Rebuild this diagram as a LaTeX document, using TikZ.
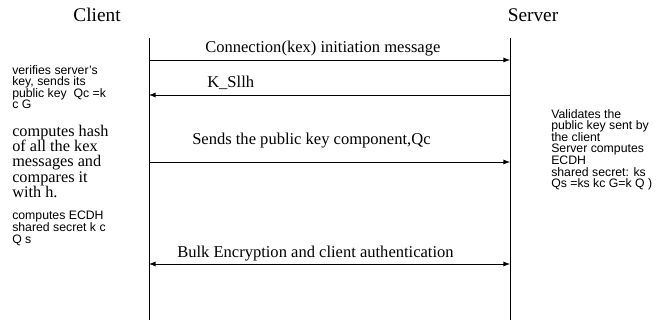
\documentclass[tikz,border=0pt]{standalone}
\usepackage{fontspec}
\setmainfont{Liberation Serif}
\setsansfont{Liberation Sans}
\usetikzlibrary{arrows,positioning}

\begin{document}
\begin{tikzpicture}[
      x=0.75pt, y=-0.75pt,
      actor/.style={font=\fontsize{14.5}{16}\selectfont, inner sep=0pt, anchor=base},
      lifeline/.style={line width=0.7pt},
      msg/.style={line width=0.7pt,->,>=latex},
      msglabel/.style={font=\fontsize{12.4}{14}\selectfont, inner sep=0pt, anchor=base west},
      note/.style={font=\sffamily\fontsize{9.2}{8.7}\selectfont, align=left, anchor=north west, inner sep=0pt},
      bignote/.style={font=\fontsize{12.2}{11.4}\selectfont, align=left, anchor=north west, inner sep=0pt}
    ]
      \useasboundingbox (0,0) rectangle (662,320);

      % actors
      \node [actor] (client) at (97,22) {Client};
      \node [actor] (server) at (533,22) {Server};

      % lifelines
      \coordinate (ctop) at (149,38);
      \coordinate (cbot) at (149,320);
      \coordinate (stop) at (510,38);
      \coordinate (sbot) at (510,320);
      \draw [lifeline] (ctop) -- (cbot);
      \draw [lifeline] (stop) -- (sbot);

      % message ends
      \coordinate (c1) at (149,60);  \coordinate (s1) at (510,60);
      \coordinate (c2) at (149,95);  \coordinate (s2) at (510,95);
      \coordinate (c3) at (149,162); \coordinate (s3) at (510,162);
      \coordinate (c4) at (149,264); \coordinate (s4) at (510,264);

      \draw [msg] (c1) -- (s1);
      \draw [msg] (s2) -- (c2);
      \draw [msg] (c3) -- (s3);
      \draw [msg,<->] (c4) -- (s4);

      \node [msglabel] (initmsg) at (205,53) {Connection(kex) initiation message};
      \node [msglabel] (kssh) at (207,88) {K\_Sllh};
      \node [msglabel] (pubkey) at (192,145) {Sends the public key component,Qc};
      \node [msglabel] (bulk) at (177,258) {Bulk Encryption and client authentication};

      % client notes
      \node [note] (verify) at (12,65) {verifies server's\\key, sends its\\public key\ \ Qc =k\\c G};
      \node [bignote] (hash) at (12,125) {computes hash\\of all the kex\\messages and\\compares it\\with h.};
      \node [note] (ecdhc) at (12,211) {computes ECDH\\shared secret k c\\Q s};

      % server note
      \node [note] (validate) at (551,109) {Validates the\\public key sent by\\the client\\Server computes\\ECDH\\shared secret: ks\\Qs =ks kc G=k Q )};
    \end{tikzpicture}
\end{document}
